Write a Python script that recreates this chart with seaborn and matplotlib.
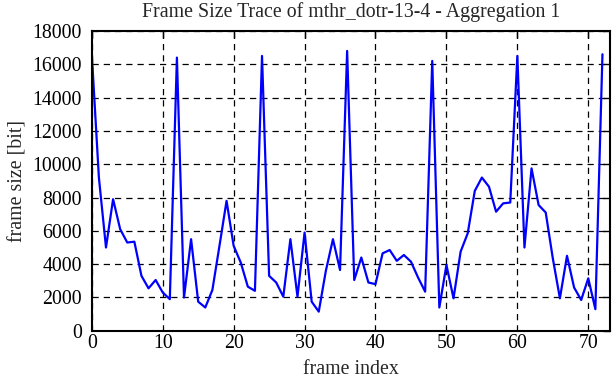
import numpy as np
import pandas as pd
import matplotlib
matplotlib.use("Agg")
import matplotlib.pyplot as plt
import seaborn as sns

# frame sizes [bit] (frames 0..72)
frame_size = [
    16600, 9200, 5000, 7900, 6100, 5300, 5350, 3300, 2550, 3050,
    2300, 1900, 16400, 2000, 5500, 1750, 1400, 2450, 5100, 7800,
    5100, 4100, 2650, 2400, 16500, 3300, 2900, 2050, 5500, 2050,
    5900, 1750, 1150, 3600, 5500, 3650, 16800, 3050, 4400, 2900,
    2800, 4650, 4850, 4200, 4550, 4150, 3200, 2350, 16200, 1400,
    3950, 1950, 4750, 5850, 8400, 9200, 8650, 7150, 7650, 7700,
    16500, 5000, 9750, 7550, 7100, 4350, 1950, 4500, 2600, 1850,
    3150, 1300, 16600,
]
frame_index = list(range(len(frame_size)))

x_ticks = [0, 10, 20, 30, 40, 50, 60, 70]
y_ticks = [0, 2000, 4000, 6000, 8000, 10000, 12000, 14000, 16000, 18000]

df = pd.DataFrame({"frame index": frame_index, "frame size": frame_size})

sns.set_style("white")
plt.rcParams["font.family"] = ["Liberation Serif", "DejaVu Serif"]
fs = 14.3

fig, ax = plt.subplots(figsize=(6.12, 3.82), dpi=100)
fig.subplots_adjust(left=0.150, right=0.996, top=0.919, bottom=0.134)

sns.lineplot(data=df, x="frame index", y="frame size", color="#0000ff",
             linewidth=1.6, ax=ax)

ax.set_xlim(0, 73)
ax.set_ylim(0, 18000)
ax.set_xticks(x_ticks)
ax.set_yticks(y_ticks)
ax.grid(True, color="black", linestyle=(0, (5, 4)), linewidth=0.9)
for s in ax.spines.values():
    s.set_visible(True)
    s.set_color("black")
    s.set_linewidth(1.5)
ax.tick_params(direction="in", length=5, width=1, colors="black",
               top=True, right=True, labelsize=fs)
ax.tick_params(axis="x", pad=2)
ax.tick_params(axis="y", pad=7)

ax.set_title("Frame Size Trace of mthr_dotr-13-4 - Aggregation 1",
             fontsize=fs, pad=10)
ax.set_xlabel("frame index", fontsize=fs, labelpad=5)
ax.set_ylabel("frame size [bit]", fontsize=fs, labelpad=4)

plt.savefig("out.png", dpi=100)
